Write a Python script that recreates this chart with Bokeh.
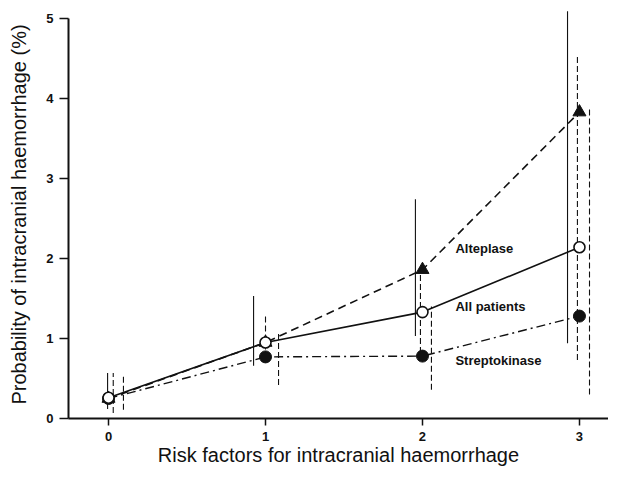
from bokeh.plotting import figure
from bokeh.models import Range1d, FixedTicker, ColumnDataSource
from bokeh.core.properties import value
from bokeh.embed import file_html
from bokeh.resources import INLINE

# ---------------- data ----------------
risk_factors = [0, 1, 2, 3]
tick_labels = ["0", "1", "2", "3"]
y_ticks = [0, 1, 2, 3, 4, 5]

all_patients = [0.26, 0.95, 1.33, 2.14]
alteplase = [0.25, 0.95, 1.86, 3.83]
streptokinase = [0.25, 0.77, 0.78, 1.28]

series_names = ["Alteplase", "All patients", "Streptokinase"]

# confidence-interval bars (one solid, two dashed)
ci_solid_low = [0.12, 0.66, 1.03, 0.94]
ci_solid_high = [0.57, 1.53, 2.74, 5.09]
ci_dash1_low = [0.07, 0.75, 0.82, 0.73]
ci_dash1_high = [0.57, 1.31, 1.81, 4.55]
ci_dash2_low = [0.11, 0.42, 0.36, 0.30]
ci_dash2_high = [0.55, 1.09, 1.40, 3.87]

# ---------------- drawing ----------------
FONT = "Liberation Sans"
INK = "#111111"

p = figure(width=608, height=468, output_backend="svg", toolbar_location=None,
           x_range=Range1d(-0.255, 3.185), y_range=Range1d(0, 5.10),
           min_border_left=68, min_border_right=0, min_border_top=10,
           min_border_bottom=50)
p.outline_line_color = None
p.grid.visible = False
p.background_fill_color = "white"
p.border_fill_color = "white"

p.xaxis.ticker = FixedTicker(ticks=risk_factors)
p.xaxis.major_label_overrides = {float(v): t for v, t in zip(risk_factors, tick_labels)}
p.yaxis.ticker = FixedTicker(ticks=y_ticks)
p.yaxis.bounds = (0, 5)
for ax in (p.xaxis[0], p.yaxis[0]):
    ax.axis_line_width = 2
    ax.axis_line_color = INK
    ax.major_tick_line_color = INK
    ax.major_tick_line_width = 1.5
    ax.major_tick_in = 0
    ax.minor_tick_line_color = None
    ax.major_label_text_font = FONT
    ax.major_label_text_font_size = "13px"
    ax.major_label_text_font_style = "bold"
    ax.major_label_text_color = INK
    ax.axis_label_text_font = FONT
    ax.axis_label_text_font_size = "20px"
    ax.axis_label_text_font_style = "normal"
    ax.axis_label_text_color = INK
p.xaxis.major_tick_out = 7
p.xaxis.major_label_standoff = 6
p.xaxis.axis_label_standoff = 0
p.yaxis.major_tick_out = 9
p.yaxis.major_label_standoff = 6
p.yaxis.axis_label_standoff = 13
p.xaxis.axis_label = "Risk factors for intracranial haemorrhage"
p.yaxis.axis_label = "Probability of intracranial haemorrhage (%)"

# error bars, slightly dodged sideways as in the original
dodge_solid = [-0.006, -0.076, -0.045, -0.076]
dodge_dash1 = [0.03, 0.0, -0.013, -0.013]
dodge_dash2 = [0.095, 0.083, 0.057, 0.064]

def bars(dodge, lo, hi, dash):
    xs = [x + d for x, d in zip(risk_factors, dodge)]
    src = ColumnDataSource(dict(x=xs, lo=lo, hi=hi))
    p.segment(x0="x", y0="lo", x1="x", y1="hi", source=src,
              line_color=INK, line_width=1.1, line_dash=dash)

bars(dodge_solid, ci_solid_low, ci_solid_high, "solid")
bars(dodge_dash1, ci_dash1_low, ci_dash1_high, "6 3")
bars(dodge_dash2, ci_dash2_low, ci_dash2_high, "6 3")

# series lines
p.line(risk_factors, alteplase, line_color=INK, line_width=1.6, line_dash="8 5")
p.line(risk_factors, streptokinase, line_color=INK, line_width=1.4, line_dash="9 4 2 4")
p.line(risk_factors, all_patients, line_color=INK, line_width=1.6)

# markers
p.scatter(risk_factors, alteplase, marker="triangle", size=13,
          fill_color=INK, line_color=INK)
p.scatter(risk_factors, streptokinase, marker="circle", size=12,
          fill_color=INK, line_color=INK)
p.scatter(risk_factors, all_patients, marker="circle", size=11,
          fill_color="white", line_color=INK, line_width=1.6)

# series labels
label_src = ColumnDataSource(dict(x=[2.21, 2.21, 2.21], y=[2.12, 1.40, 0.73],
                                  t=series_names))
p.text(x="x", y="y", text="t", source=label_src, text_font=value(FONT),
       text_font_size="13px", text_font_style="bold", text_color=INK,
       text_align="left", text_baseline="middle")

open("out.html", "w").write(file_html(p, INLINE))
